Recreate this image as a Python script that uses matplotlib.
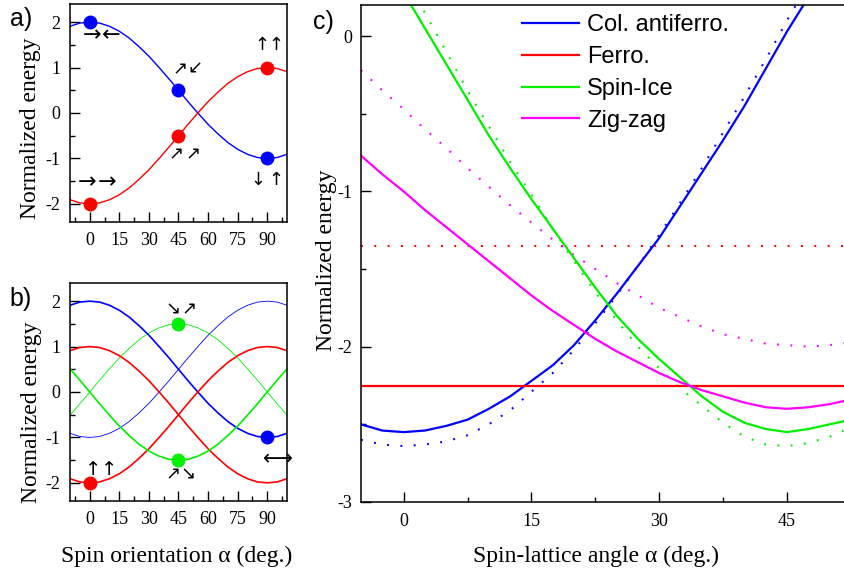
import matplotlib
matplotlib.use('Agg')
import matplotlib.pyplot as plt
from matplotlib.ticker import MultipleLocator, FixedLocator

plt.rcParams['font.family'] = 'Liberation Serif'
plt.rcParams['axes.unicode_minus'] = False

# panels a) and b): spin orientation (deg.)
alpha_ab = [-10, -5, 0, 5, 10, 15, 20, 25, 30, 35, 40, 45, 50, 55, 60, 65, 70, 75, 80, 85, 90, 95, 100]

col_a = [1.91, 1.98, 2.00, 1.98, 1.91, 1.80, 1.65, 1.46, 1.25, 1.01, 0.76, 0.50, 0.24,
         -0.01, -0.25, -0.46, -0.65, -0.80, -0.91, -0.98, -1.00, -0.98, -0.91]
ferro_a = [-1.91, -1.98, -2.00, -1.98, -1.91, -1.80, -1.65, -1.46, -1.25, -1.01, -0.76, -0.50, -0.24,
           0.01, 0.25, 0.46, 0.65, 0.80, 0.91, 0.98, 1.00, 0.98, 0.91]

blue_b_thick = [1.91, 1.98, 2.00, 1.98, 1.91, 1.80, 1.65, 1.46, 1.25, 1.01, 0.76, 0.50, 0.24,
                -0.01, -0.25, -0.46, -0.65, -0.80, -0.91, -0.98, -1.00, -0.98, -0.91]
blue_b_thin = [-0.91, -0.98, -1.00, -0.98, -0.91, -0.80, -0.65, -0.46, -0.25, -0.01, 0.24, 0.50, 0.76,
               1.01, 1.25, 1.46, 1.65, 1.80, 1.91, 1.98, 2.00, 1.98, 1.91]
red_b_1 = [0.91, 0.98, 1.00, 0.98, 0.91, 0.80, 0.65, 0.46, 0.25, 0.01, -0.24, -0.50, -0.76,
           -1.01, -1.25, -1.46, -1.65, -1.80, -1.91, -1.98, -2.00, -1.98, -1.91]
red_b_2 = [-1.91, -1.98, -2.00, -1.98, -1.91, -1.80, -1.65, -1.46, -1.25, -1.01, -0.76, -0.50, -0.24,
           0.01, 0.25, 0.46, 0.65, 0.80, 0.91, 0.98, 1.00, 0.98, 0.91]
green_b_thin = [-0.51, -0.26, 0.00, 0.26, 0.51, 0.75, 0.96, 1.15, 1.30, 1.41, 1.48, 1.50, 1.48,
                1.41, 1.30, 1.15, 0.96, 0.75, 0.51, 0.26, 0.00, -0.26, -0.51]
green_b_thick = [0.51, 0.26, 0.00, -0.26, -0.51, -0.75, -0.96, -1.15, -1.30, -1.41, -1.48, -1.50, -1.48,
                 -1.41, -1.30, -1.15, -0.96, -0.75, -0.51, -0.26, 0.00, 0.26, 0.51]

# marked configurations
dots_a_blue = ([0, 45, 90], [2.0, 0.5, -1.0])
dots_a_red = ([0, 45, 90], [-2.0, -0.5, 1.0])
dots_b_red = ([0], [-2.0])
dots_b_blue = ([90], [-1.0])
dots_b_green = ([45, 45], [1.5, -1.5])

# spin arrows drawn next to the dots: (glyph, alpha, energy, size)
arrows_a = [('→', 1.2, 1.71, 16), ('←', 10.8, 1.71, 16),
            ('↗', 45.6, 0.97, 13), ('↙', 53.6, 0.97, 13),
            ('↑', 87.2, 1.49, 13), ('↑', 94.4, 1.49, 13),
            ('→', -1.2, -1.53, 16), ('→', 9.0, -1.53, 16),
            ('↗', 43.9, -0.92, 13), ('↗', 52.3, -0.92, 13),
            ('↓', 85.5, -1.47, 13), ('↑', 94.2, -1.47, 13)]
arrows_b = [('↘', 42.1, 1.81, 13), ('↗', 50.2, 1.81, 13),
            ('↑', 2.0, -1.71, 14), ('↑', 10.0, -1.71, 14),
            ('↗', 42.1, -1.82, 13), ('↘', 49.8, -1.82, 13),
            ('⟷', 95.3, -1.49, 15)]

# panel c): spin-lattice angle (deg.)
alpha_c = [-5, -2.5, 0, 2.5, 5, 7.5, 10, 12.5, 15, 17.5, 20, 22.5, 25,
           27.5, 30, 32.5, 35, 37.5, 40, 42.5, 45, 47.5, 50, 52.5]
col_solid = [-2.50, -2.54, -2.55, -2.54, -2.51, -2.47, -2.40, -2.32, -2.22, -2.12, -1.99, -1.83, -1.66,
             -1.48, -1.30, -1.09, -0.88, -0.67, -0.45, -0.21, 0.03, 0.25, 0.48, 0.70]
col_dot = [-2.60, -2.63, -2.64, -2.63, -2.61, -2.57, -2.50, -2.41, -2.29, -2.17, -2.02, -1.85, -1.67,
           -1.48, -1.28, -1.07, -0.85, -0.62, -0.39, -0.15, 0.10, 0.34, 0.58, 0.82]
ice_solid = [0.74, 0.51, 0.28, 0.05, -0.18, -0.41, -0.64, -0.85, -1.05, -1.24, -1.43, -1.62, -1.80,
             -1.95, -2.08, -2.20, -2.32, -2.42, -2.49, -2.53, -2.55, -2.53, -2.50, -2.47]
ice_dot = [0.92, 0.66, 0.40, 0.15, -0.10, -0.35, -0.58, -0.81, -1.02, -1.24, -1.45, -1.65, -1.83,
           -2.00, -2.14, -2.27, -2.38, -2.49, -2.58, -2.63, -2.64, -2.62, -2.58, -2.52]
zz_solid = [-0.77, -0.89, -1.00, -1.12, -1.23, -1.34, -1.45, -1.56, -1.67, -1.77, -1.86, -1.95, -2.03,
            -2.10, -2.17, -2.23, -2.28, -2.32, -2.36, -2.39, -2.40, -2.39, -2.37, -2.34]
zz_dot = [-0.22, -0.35, -0.47, -0.60, -0.72, -0.85, -0.97, -1.09, -1.20, -1.31, -1.41, -1.50, -1.59,
          -1.67, -1.75, -1.81, -1.87, -1.92, -1.95, -1.98, -1.99, -2.00, -1.99, -1.97]
alpha_ferro = [-5, 52.5]
ferro_solid = [-2.25, -2.25]
ferro_dot = [-1.35, -1.35]

labels_c = ['Col. antiferro.', 'Ferro.', 'Spin-Ice', 'Zig-zag']

BLUE, RED, GREEN, MAG = '#0000ff', '#ff0000', '#00f000', '#ff00ff'
DOTS = (0, (0.9, 5.5))

W, H = 845, 583
fig = plt.figure(figsize=(W / 100, H / 100), dpi=100)


def box(l, t, r, b):
    return [l / W, 1 - b / H, (r - l) / W, (b - t) / H]


def style(ax, xmaj, xmin, ymaj, ymin, xpad, ypad):
    ax.xaxis.set_major_locator(xmaj)
    ax.xaxis.set_minor_locator(xmin)
    ax.yaxis.set_major_locator(MultipleLocator(ymaj))
    ax.yaxis.set_minor_locator(MultipleLocator(ymin))
    ax.tick_params(which='both', direction='in', top=False, right=False, labelsize=13, width=1)
    ax.tick_params(which='major', length=7)
    ax.tick_params(which='minor', length=3.5)
    ax.tick_params(axis='x', pad=xpad)
    ax.tick_params(axis='y', pad=ypad)
    for s in ax.spines.values():
        s.set_linewidth(1.1)


ax_a = fig.add_axes(box(70, 4, 287, 222))
ax_b = fig.add_axes(box(70, 283, 287, 501))
ax_c = fig.add_axes(box(361, 5, 845, 502))

# a)
ax_a.plot(alpha_ab, col_a, color=BLUE, lw=1.0)
ax_a.plot(alpha_ab, ferro_a, color=RED, lw=1.0)
ax_a.plot(*dots_a_blue, 'o', color=BLUE, ms=9)
ax_a.plot(*dots_a_red, 'o', color=RED, ms=9)
for g, x, y, s in arrows_a:
    ax_a.text(x, y, g, family='DejaVu Sans', fontsize=s, ha='center', va='center')

# b)
ax_b.plot(alpha_ab, blue_b_thin, color=BLUE, lw=0.6)
ax_b.plot(alpha_ab, green_b_thin, color=GREEN, lw=0.6)
ax_b.plot(alpha_ab, blue_b_thick, color=BLUE, lw=1.2)
ax_b.plot(alpha_ab, red_b_1, color=RED, lw=1.2)
ax_b.plot(alpha_ab, red_b_2, color=RED, lw=1.2)
ax_b.plot(alpha_ab, green_b_thick, color=GREEN, lw=1.2)
ax_b.plot(*dots_b_red, 'o', color=RED, ms=9)
ax_b.plot(*dots_b_blue, 'o', color=BLUE, ms=9)
ax_b.plot(*dots_b_green, 'o', color=GREEN, ms=9)
for g, x, y, s in arrows_b:
    ax_b.text(x, y, g, family='DejaVu Sans', fontsize=s, ha='center', va='center', clip_on=False)

for ax in (ax_a, ax_b):
    ax.set_xlim(-10, 100)
    ax.set_ylim(-2.4, 2.4)
    style(ax, MultipleLocator(15), MultipleLocator(7.5), 1, 0.5, 7, 7)

# c)
ax_c.plot(alpha_c, col_dot, color=BLUE, lw=1.5, ls=DOTS)
ax_c.plot(alpha_ferro, ferro_dot, color=RED, lw=1.5, ls=DOTS)
ax_c.plot(alpha_c, ice_dot, color=GREEN, lw=1.5, ls=DOTS)
ax_c.plot(alpha_c, zz_dot, color=MAG, lw=1.5, ls=DOTS)
h1, = ax_c.plot(alpha_c, col_solid, color=BLUE, lw=1.6)
h2, = ax_c.plot(alpha_ferro, ferro_solid, color=RED, lw=1.6)
h3, = ax_c.plot(alpha_c, ice_solid, color=GREEN, lw=1.6)
h4, = ax_c.plot(alpha_c, zz_solid, color=MAG, lw=1.6)
ax_c.set_xlim(-5, 51.8)
ax_c.set_ylim(-3, 0.2)
style(ax_c, FixedLocator([0, 15, 30, 45]), MultipleLocator(7.5), 1, 0.5, 8, 6)
ax_c.spines['right'].set_visible(False)

fig.legend([h1, h2, h3, h4], labels_c, loc='upper left', bbox_to_anchor=(522 / W, 1 - 14 / H),
           frameon=False, prop={'family': 'Liberation Sans', 'size': 17},
           handlelength=2.4, handletextpad=0.35, labelspacing=0.42, borderpad=0, borderaxespad=0)

# labels
fig.text(31 / W, 1 - 128 / H, 'Normalized energy', rotation=90, ha='center', va='center', fontsize=17)
fig.text(32 / W, 1 - 412 / H, 'Normalized energy', rotation=90, ha='center', va='center', fontsize=17)
fig.text(327 / W, 1 - 260 / H, 'Normalized energy', rotation=90, ha='center', va='center', fontsize=17)
fig.text(177 / W, 1 - 556 / H, 'Spin orientation α (deg.)', ha='center', va='center', fontsize=17)
fig.text(596 / W, 1 - 556 / H, 'Spin-lattice angle α (deg.)', ha='center', va='center', fontsize=17)

for t, x, y in [('a)', 21, 19), ('b)', 21, 299), ('c)', 323, 22)]:
    fig.text(x / W, 1 - y / H, t, family='Liberation Sans', fontsize=18, ha='center', va='center')

fig.savefig('out.png', dpi=100)
